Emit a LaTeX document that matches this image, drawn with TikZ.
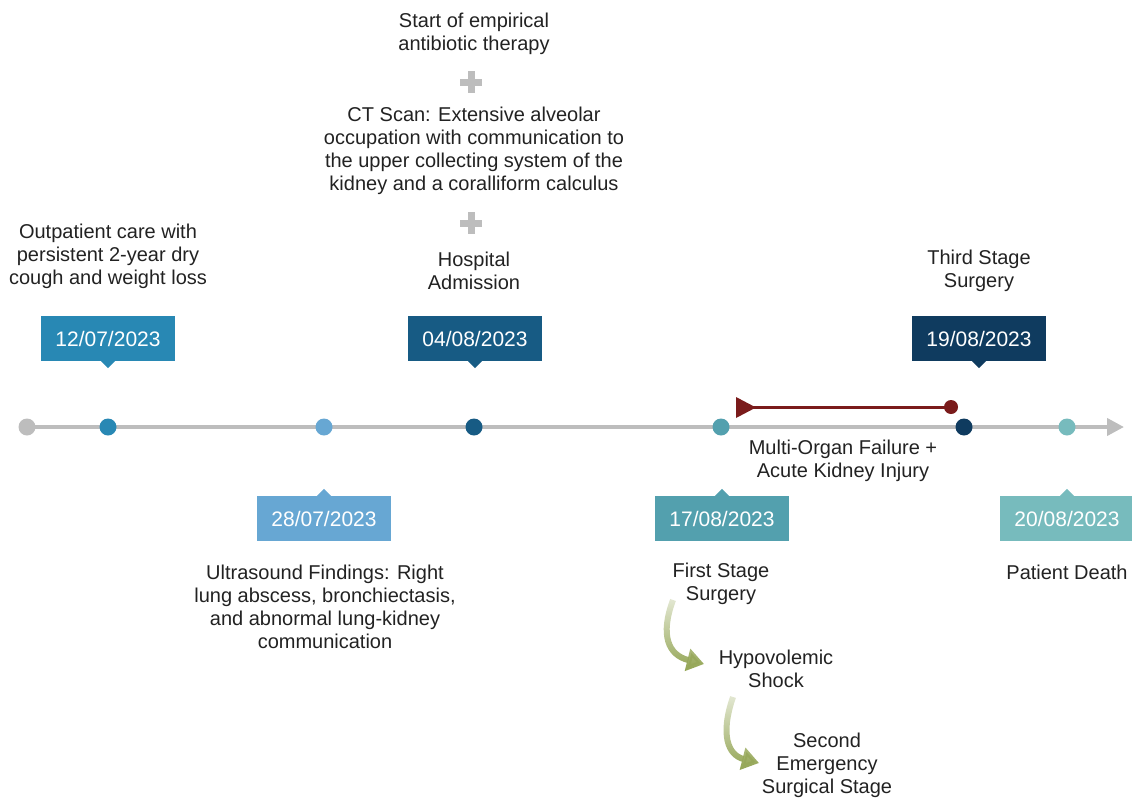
\documentclass[tikz,border=0pt]{standalone}
\usepackage{fontspec}
\setmainfont{Liberation Sans}
\usetikzlibrary{arrows.meta,fadings}
\definecolor{txtc}{HTML}{222222}
\definecolor{tlgray}{HTML}{BDBDBD}
\definecolor{cA}{HTML}{2888B4}
\definecolor{cB}{HTML}{67A7D3}
\definecolor{cC}{HTML}{175B84}
\definecolor{cD}{HTML}{53A0AE}
\definecolor{cE}{HTML}{0F3B5F}
\definecolor{cF}{HTML}{77BBBD}
\definecolor{redc}{HTML}{7A1B1B}
\definecolor{greenc}{HTML}{97A85A}
\tikzfading[name=gfade, top color=transparent!75, middle color=transparent!0, bottom color=transparent!0]
\begin{document}
\begin{tikzpicture}[x=1pt,y=-1pt,
  txt/.style={align=center, text=txtc, font=\fontsize{20}{23}\selectfont, inner sep=0pt},
  datebox/.style={fill=#1, text=white, font=\fontsize{21}{23}\selectfont, minimum width=134pt, minimum height=45pt, inner sep=0pt},
  dot/.style={circle, fill=#1, minimum size=17pt, inner sep=0pt},
  garrow/.style={draw=greenc, line width=6pt, -{Triangle[length=17pt,width=22pt]}, path fading=gfade},
  plusbar/.style={fill=tlgray}]
\useasboundingbox (0,0) rectangle (1132,798);
% timeline
\coordinate (tlstart) at (27,427);
\coordinate (tlend) at (1124,427);
\draw[tlgray, line width=4pt, -{Triangle[length=17pt,width=17pt]}] (tlstart) -- (tlend);
\node[dot=tlgray] (d0) at (27,427) {};
\node[dot=cA] (d1) at (108,427) {};
\node[dot=cB] (d2) at (324,427) {};
\node[dot=cC] (d3) at (474,427) {};
\node[dot=cD] (d4) at (721,427) {};
\node[dot=cE] (d5) at (964,427) {};
\node[dot=cF] (d6) at (1067,427) {};
% date boxes above
\node[datebox=cA] (b1) at (108,338.5) {12/07/2023};
\fill[cA] ([xshift=-7pt]b1.south) -- ([xshift=7pt]b1.south) -- ++(-7,7) -- cycle;
\node[datebox=cC] (b3) at (475,338.5) {04/08/2023};
\fill[cC] ([xshift=-7pt]b3.south) -- ([xshift=7pt]b3.south) -- ++(-7,7) -- cycle;
\node[datebox=cE] (b5) at (979,338.5) {19/08/2023};
\fill[cE] ([xshift=-7pt]b5.south) -- ([xshift=7pt]b5.south) -- ++(-7,7) -- cycle;
% date boxes below
\node[datebox=cB] (b2) at (324,518.5) {28/07/2023};
\fill[cB] ([xshift=-7pt]b2.north) -- ([xshift=7pt]b2.north) -- ++(-7,-7) -- cycle;
\node[datebox=cD] (b4) at (722,518.5) {17/08/2023};
\fill[cD] ([xshift=-7pt]b4.north) -- ([xshift=7pt]b4.north) -- ++(-7,-7) -- cycle;
\node[datebox=cF] (b6) at (1067,518.5) {20/08/2023};
\fill[cF] ([xshift=-7pt]b6.north) -- ([xshift=7pt]b6.north) -- ++(-7,-7) -- cycle;
% texts above
\node[txt] (t1) at (108,256.5) {Outpatient care with\\persistent 2-year dry\\cough and weight loss};
\node[txt] (t3) at (474,271) {Hospital\\Admission};
\node[txt] (t5) at (979,271) {Third Stage\\Surgery};
\node[txt] (t3b) at (474,151) {CT Scan: Extensive alveolar\\occupation with communication to\\the upper collecting system of the\\kidney and a coralliform calculus};
\node[txt] (t3c) at (474,34) {Start of empirical\\antibiotic therapy};
% plus signs
\node[inner sep=0pt, minimum size=22pt] (p1) at (471,82) {};
\fill[plusbar] ([xshift=-11pt,yshift=-3.5pt]p1.center) rectangle ([xshift=11pt,yshift=3.5pt]p1.center);
\fill[plusbar] ([xshift=-3.5pt,yshift=-11pt]p1.center) rectangle ([xshift=3.5pt,yshift=11pt]p1.center);
\node[inner sep=0pt, minimum size=22pt] (p2) at (471,223) {};
\fill[plusbar] ([xshift=-11pt,yshift=-3.5pt]p2.center) rectangle ([xshift=11pt,yshift=3.5pt]p2.center);
\fill[plusbar] ([xshift=-3.5pt,yshift=-11pt]p2.center) rectangle ([xshift=3.5pt,yshift=11pt]p2.center);
% texts below
\node[txt] (t2) at (325,607) {Ultrasound Findings: Right\\lung abscess, bronchiectasis,\\and abnormal lung-kidney\\communication};
\node[txt] (t4) at (721,584) {First Stage\\Surgery};
\node[txt] (t6) at (1067,572.5) {Patient Death};
\node[txt] (tm) at (843,460.5) {Multi-Organ Failure +\\Acute Kidney Injury};
\node[txt] (th) at (776,669) {Hypovolemic\\Shock};
\node[txt] (ts) at (827,765.5) {Second\\Emergency\\Surgical Stage};
% red interval
\coordinate (r1) at (746,407);
\node[circle, fill=redc, minimum size=14pt, inner sep=0pt] (r2) at (951,407) {};
\draw[redc, line width=3pt] (r1) -- (r2.center);
\fill[redc] (736,397) -- (736,418) -- (756,407.5) -- cycle;
% green curved arrows
\coordinate (g1s) at (673,600);
\coordinate (g1e) at (704,664);
\draw[garrow] (g1s) .. controls (660,635) and (668,655) .. (g1e);
\coordinate (g2s) at (733,697);
\coordinate (g2e) at (759,763);
\draw[garrow] (g2s) .. controls (720,735) and (728,755) .. (g2e);
\end{tikzpicture}
\end{document}
